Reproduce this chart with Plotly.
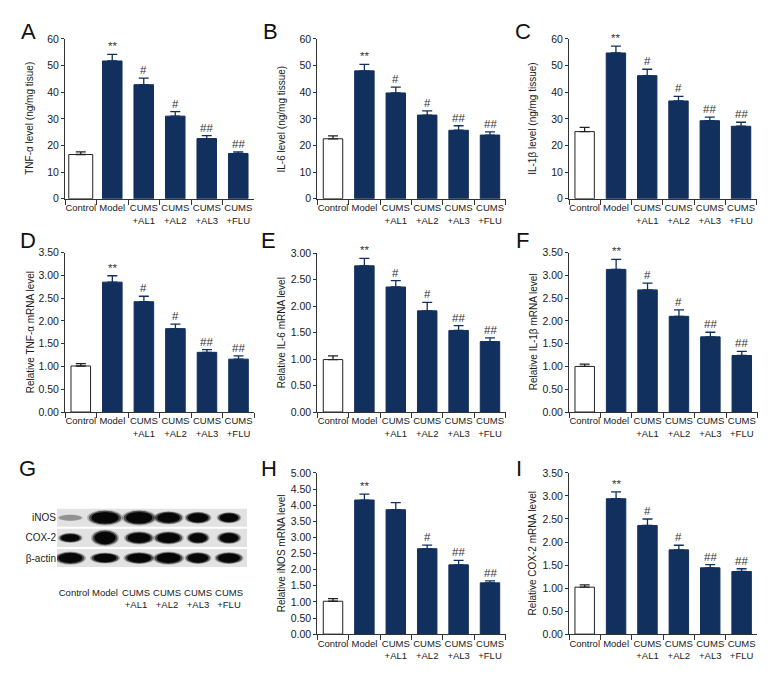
import plotly.graph_objects as go

W, H = 780, 696
OX, OY = 8, 8  # page body margin compensation

categories = ["Control", "Model", "CUMS<br>+AL1", "CUMS<br>+AL2", "CUMS<br>+AL3", "CUMS<br>+FLU"]

# Panel values (mean) and upper error (SEM)
A_mean = [16.6, 51.7, 42.8, 31.0, 22.6, 17.0]
A_err = [1.0, 2.5, 2.5, 1.7, 1.1, 0.6]
B_mean = [22.5, 48.0, 39.7, 31.4, 25.7, 23.9]
B_err = [1.1, 2.4, 2.2, 1.6, 1.7, 1.2]
C_mean = [25.2, 54.7, 46.2, 36.7, 29.3, 27.2]
C_err = [1.6, 2.6, 2.4, 1.7, 1.3, 1.5]
D_mean = [1.01, 2.85, 2.42, 1.83, 1.31, 1.16]
D_err = [0.05, 0.14, 0.12, 0.10, 0.06, 0.07]
E_mean = [0.99, 2.76, 2.36, 1.91, 1.54, 1.33]
E_err = [0.07, 0.14, 0.12, 0.16, 0.09, 0.07]
F_mean = [1.00, 3.13, 2.68, 2.10, 1.65, 1.24]
F_err = [0.05, 0.22, 0.15, 0.14, 0.10, 0.09]
H_mean = [1.02, 4.16, 3.86, 2.65, 2.15, 1.59]
H_err = [0.08, 0.18, 0.22, 0.11, 0.14, 0.06]
I_mean = [1.02, 2.94, 2.36, 1.83, 1.44, 1.36]
I_err = [0.05, 0.15, 0.14, 0.10, 0.07, 0.06]

sig_default = ["", "**", "#", "#", "##", "##"]
sig_H = ["", "**", "", "#", "##", "##"]

# Western blot (panel G)
blot_proteins = ["iNOS", "COX-2", "β-actin"]
blot_width_px = {
    "iNOS": [23, 32, 31, 27, 24, 22],
    "COX-2": [22, 25, 27, 27, 21, 22],
    "β-actin": [28, 27, 28, 28, 24, 26],
}
blot_height_px = {
    "iNOS": [6, 14, 14, 12, 11, 10],
    "COX-2": [9, 15, 12, 12, 11, 11],
    "β-actin": [12, 10, 11, 12, 11, 11],
}
blot_darkness = {
    "iNOS": [0.45, 1, 1, 1, 1, 1],
    "COX-2": [1, 1, 1, 1, 1, 1],
    "β-actin": [1, 1, 1, 1, 1, 1],
}
blot_lane_shift = [-0.12, 0.0, 0.1, 0.05, 0.0, 0.0]

FONT = "Liberation Sans, Arial, sans-serif"
NAVY = "#12305e"
AXC = "#333333"
TXT = "#1a1a1a"


def px_x(x):
    return (x - OX) / W


def px_y(y):
    return 1 - (y - OY) / H


panels = [
    ("A", A_mean, A_err, sig_default, 65, 254, 33.3, 196, 60, 10, "d", "TNF-α level (ng/mg tisue)", 30),
    ("B", B_mean, B_err, sig_default, 317.3, 505.7, 33.3, 196, 60, 10, "d", "IL-6 level (ng/mg tissue)", 281.7),
    ("C", C_mean, C_err, sig_default, 569, 756.7, 33.3, 196, 60, 10, "d", "IL-1β level (ng/mg tissue)", 533),
    ("D", D_mean, D_err, sig_default, 65, 254.3, 250.7, 413, 3.5, 0.5, ".2f", "Relative TNF-α mRNA level", 30),
    ("E", E_mean, E_err, sig_default, 317.3, 505.7, 251.3, 413, 3.0, 0.5, ".2f", "Relative IL-6 mRNA level", 281.7),
    ("F", F_mean, F_err, sig_default, 569, 757.5, 250.7, 413, 3.5, 0.5, ".2f", "Relative IL-1β mRNA level", 533),
    ("H", H_mean, H_err, sig_H, 317.3, 505.7, 475, 639, 5.0, 0.5, ".2f", "Relative iNOS mRNA level", 281.7),
    ("I", I_mean, I_err, sig_default, 569, 757.3, 475, 639, 3.5, 0.5, ".2f", "Relative COX-2 mRNA level", 533),
]

letters = [("A", 28, 26), ("B", 270, 26), ("C", 523, 26), ("D", 28, 238), ("E", 268, 238),
           ("F", 522, 238), ("G", 27, 470), ("H", 269, 470), ("I", 519, 470)]

fig = go.Figure()
layout = dict(width=W, height=H, margin=dict(l=0, r=0, t=0, b=0),
              paper_bgcolor="white", plot_bgcolor="white", showlegend=False,
              barmode="overlay", font=dict(family=FONT, size=10, color=TXT))
annotations = []
shapes = []

for k, (name, mean, err, sig, x0, x1, yt, yb, ymax, dtick, fmt, title, tx) in enumerate(panels, start=1):
    xa = "x" if k == 1 else f"x{k}"
    ya = "y" if k == 1 else f"y{k}"
    xkey = "xaxis" if k == 1 else f"xaxis{k}"
    ykey = "yaxis" if k == 1 else f"yaxis{k}"
    ctrl_w = 0.76 if name == "A" else 0.62
    fig.add_trace(go.Bar(
        x=categories[:1], y=mean[:1], xaxis=xa, yaxis=ya, width=ctrl_w,
        marker=dict(color="white", line=dict(color="#222222", width=1)),
        error_y=dict(type="data", symmetric=False, array=err[:1], arrayminus=[0],
                     width=5, thickness=1.3, color="#222222"),
        hoverinfo="skip"))
    fig.add_trace(go.Bar(
        x=categories[1:], y=mean[1:], xaxis=xa, yaxis=ya, width=0.62,
        marker=dict(color=NAVY, line=dict(color=NAVY, width=1)),
        error_y=dict(type="data", symmetric=False, array=err[1:], arrayminus=[0] * 5,
                     width=5, thickness=1.3, color=NAVY),
        hoverinfo="skip"))
    layout[xkey] = dict(domain=[px_x(x0), px_x(x1)], anchor=ya, type="category",
                        categoryorder="array", categoryarray=categories,
                        range=[-0.5, 5.5], showline=True, linecolor=AXC, linewidth=1,
                        ticks="outside", tickson="boundaries", ticklen=5, tickcolor=AXC,
                        tickwidth=1, showgrid=False, zeroline=False, tickangle=0,
                        tickfont=dict(family=FONT, size=9.5, color=TXT), fixedrange=True)
    layout[ykey] = dict(domain=[px_y(yb), px_y(yt)], anchor=xa, range=[0, ymax],
                        dtick=dtick, tick0=0, tickformat=fmt, showline=True, linecolor=AXC,
                        linewidth=1, ticks="outside", ticklen=3, tickcolor=AXC,
                        showgrid=False, zeroline=False,
                        tickfont=dict(family=FONT, size=10.5, color=TXT), fixedrange=True)
    for c, m, e, s in zip(categories, mean, err, sig):
        if s:
            annotations.append(dict(x=c, y=m + e, xref=xa, yref=ya, text=s, showarrow=False,
                                    yanchor="bottom", yshift=0,
                                    font=dict(family=FONT, size=11.5, color="#333333")))
    annotations.append(dict(x=px_x(tx), y=px_y((yt + yb) / 2), xref="paper", yref="paper",
                            text=title, textangle=-90, showarrow=False,
                            xanchor="center", yanchor="middle",
                            font=dict(family=FONT, size=10, color=TXT)))

# Blot panel axes
bx0, bx1 = 57, 247
by0, by1 = 505, 578
layout["xaxis9"] = dict(domain=[px_x(bx0), px_x(bx1)], anchor="y9", range=[-0.55, 5.58],
                        tickvals=list(range(6)), ticktext=categories, showline=False,
                        showgrid=False, zeroline=False, ticks="outside", ticklen=9,
                        tickcolor="rgba(0,0,0,0)", tickangle=0,
                        tickfont=dict(family=FONT, size=9.5, color=TXT), fixedrange=True)
layout["yaxis9"] = dict(domain=[px_y(by1), px_y(by0)], anchor="x9", range=[2.8, -0.76],
                        tickvals=[0, 1, 2], ticktext=blot_proteins, showline=False,
                        showgrid=False, zeroline=False, ticks="",
                        tickfont=dict(family=FONT, size=10, color=TXT), fixedrange=True)
fig.add_trace(go.Scatter(x=[None], y=[None], xaxis="x9", yaxis="y9", hoverinfo="skip"))

lane_px = (bx1 - bx0) / (5.58 + 0.55)
row_px = (by1 - by0) / (2.8 + 0.76)
for r, p in enumerate(blot_proteins):
    shapes.append(dict(type="rect", xref="x9", yref="y9", x0=-0.55, x1=5.58,
                       y0=r - 0.45, y1=r + 0.45, fillcolor="#e2e2e2", line=dict(width=0),
                       layer="below"))
    for i in range(6):
        w = blot_width_px[p][i] / lane_px / 2
        h = blot_height_px[p][i] / row_px / 2
        d = blot_darkness[p][i]
        cx = i + blot_lane_shift[i]
        for scale, alpha in [(1.12, 0.25), (1.0, 0.55), (0.85, 0.9)]:
            g = int(255 * (1 - d)) if alpha > 0.8 else 0
            shapes.append(dict(type="circle", xref="x9", yref="y9",
                               x0=cx - w * scale, x1=cx + w * scale,
                               y0=r - min(h * scale, 0.44), y1=r + min(h * scale, 0.44),
                               fillcolor=f"rgba({g},{g},{g},{alpha * d:.2f})",
                               line=dict(width=0)))

for t, lx, ly in letters:
    annotations.append(dict(x=px_x(lx), y=px_y(ly), xref="paper", yref="paper", text=t,
                            showarrow=False, xanchor="center", yanchor="middle",
                            font=dict(family=FONT, size=22, color="#111111")))

layout["annotations"] = annotations
layout["shapes"] = shapes
fig.update_layout(**layout)
fig.write_html("out.html")
